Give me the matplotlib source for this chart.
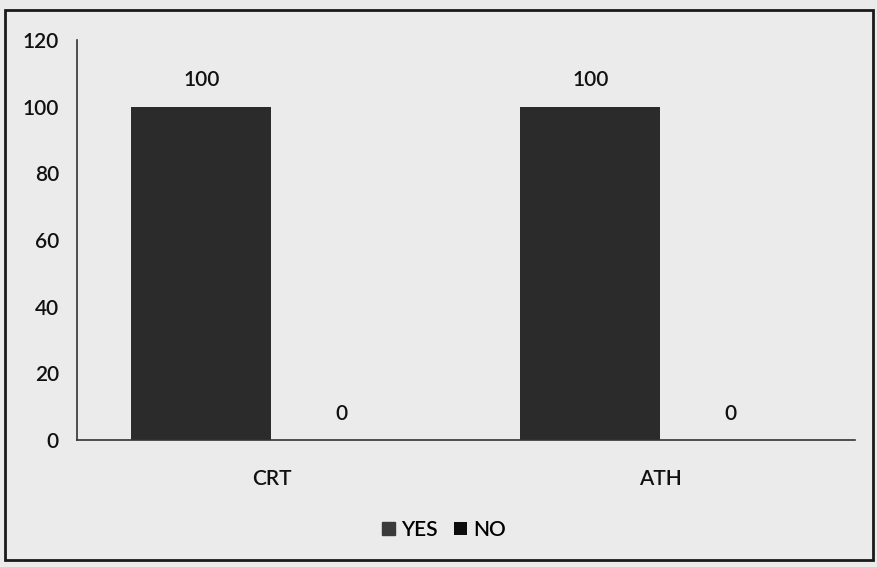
import matplotlib.pyplot as plt
import matplotlib.patches as patches
import numpy as np

categories = ["CRT", "ATH"]
yes_values = [100, 100]
no_values = [0, 0]
series_names = ["YES", "NO"]

plt.rcParams['font.family'] = ['Lato', 'DejaVu Sans']
plt.rcParams['font.weight'] = 'semibold'

fig = plt.figure(figsize=(8.78, 5.67), dpi=100)
fig.patch.set_facecolor('#ebebeb')

# outer frame around the chart
fig.patches.append(patches.Rectangle((5 / 878, 1 - 560 / 567), 868 / 878, 550 / 567,
                                     transform=fig.transFigure, fill=False,
                                     edgecolor='#1a1a1a', linewidth=2))

ax = fig.add_axes([77 / 878, 1 - 440 / 567, 778 / 878, 400 / 567])
ax.set_facecolor('#ebebeb')

x = np.arange(len(categories))
width = 0.36
yes_bars = ax.bar(x - width / 2, yes_values, width, color='#2b2b2b', label=series_names[0])
no_bars = ax.bar(x + width / 2, no_values, width, color='#0d0d0d', label=series_names[1])

for bars, vals in [(yes_bars, yes_values), (no_bars, no_values)]:
    for b, v in zip(bars, vals):
        ax.annotate(f"{v}", (b.get_x() + b.get_width() / 2, v), xytext=(0, 19),
                    textcoords='offset points', ha='center', va='center',
                    fontsize=15, color='#111111')

ax.set_xlim(-0.5, len(categories) - 0.5)
ax.set_ylim(0, 120)
ax.set_yticks(range(0, 121, 20))
ax.set_xticks(x)
ax.set_xticklabels(categories)
ax.tick_params(axis='both', length=0, labelsize=15, colors='#111111')
ax.tick_params(axis='y', pad=13)
ax.tick_params(axis='x', pad=21)

for side in ['top', 'right']:
    ax.spines[side].set_visible(False)
ax.spines['left'].set_color('#333333')
ax.spines['bottom'].set_color('#333333')
ax.spines['left'].set_linewidth(1.2)
ax.spines['bottom'].set_linewidth(1.2)

leg = fig.legend(handles=[yes_bars, no_bars], labels=series_names, loc='center',
                 bbox_to_anchor=(444 / 878, 1 - 530 / 567), ncol=2, frameon=False,
                 fontsize=15, handlelength=0.6, handleheight=0.6, handletextpad=0.3,
                 columnspacing=0.8)
leg.legend_handles[0].set_color('#3a3a3a')

fig.savefig('out.png', dpi=100, facecolor=fig.get_facecolor())
